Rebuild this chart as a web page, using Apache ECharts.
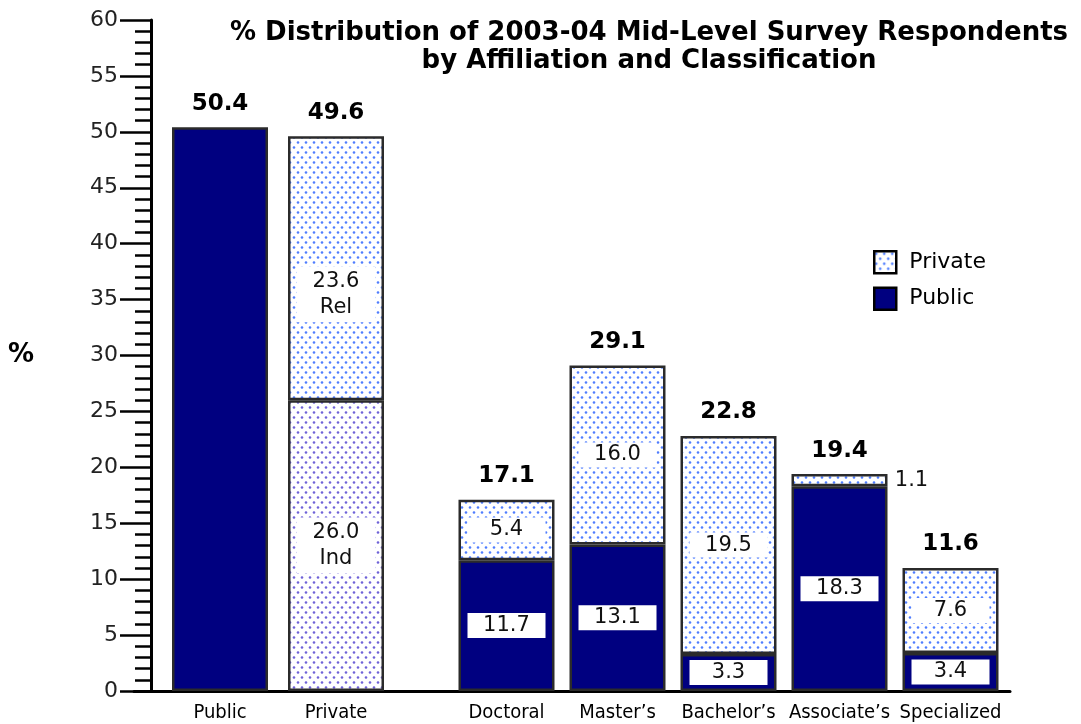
<!DOCTYPE html>
<html>
<head>
<meta charset="utf-8">
<script src="https://cdn.jsdelivr.net/npm/echarts@6/dist/echarts.min.js"></script>
<style>
  html, body { margin: 0; padding: 0; background: #fff; }
  #chart { width: 1081px; height: 724px; }
</style>
</head>
<body>
<div id="chart"></div>
<script>
// datos
const affiliationCats = ['Public', 'Private'];
const affPublic = [50.4, '-'];
const affIndependent = ['-', 26.0];
const affReligious = ['-', 23.6];
const affTotals = ['50.4', '49.6'];

const classCats = ['Doctoral', "Master\u2019s", "Bachelor\u2019s", "Associate\u2019s", 'Specialized'];
const classPublic = [11.7, 13.1, 3.3, 18.3, 3.4];
const classPrivate = [5.4, 16.0, 19.5, 1.1, 7.6];
const classTotals = ['17.1', '29.1', '22.8', '19.4', '11.6'];

const yTicks = { min: 0, max: 60, interval: 5 };

// patron de puntos
function dots(color) {
    const c = document.createElement('canvas');
    c.width = 8; c.height = 10;
    const ctx = c.getContext('2d');
    ctx.fillStyle = '#fff';
    ctx.fillRect(0, 0, 8, 10);
    ctx.fillStyle = color;
    [[2, 2.5], [6, 7.5]].forEach(p => {
        ctx.beginPath(); ctx.arc(p[0], p[1], 1.3, 0, Math.PI * 2); ctx.fill();
    });
    return { image: c, repeat: 'repeat' };
}

const NAVY = '#000080';
const EDGE = '#2b2b2b';
const FONT = 'DejaVu Sans';
const CATFONT = '"DejaVu Sans Condensed", "Liberation Sans Narrow", "DejaVu Sans", sans-serif';
const blueDots = dots('#4f7dff');
const purpleDots = dots('#6f62d8');

const boxLabel = {
    show: true, position: 'inside', color: '#111', fontFamily: FONT, fontSize: 21,
    backgroundColor: '#fff', width: 54, align: 'center', padding: [2, 12]
};
const barStyle = (color) => ({ color: color, borderColor: EDGE, borderWidth: 2.5 });
const totalSeries = (xi, yi, totals) => ({
    type: 'bar', name: 'total', stack: 's' + xi, xAxisIndex: xi, yAxisIndex: yi, barWidth: 96,
    data: totals.map(() => 0), itemStyle: { color: 'transparent', borderWidth: 0 },
    label: {
        show: true, position: 'top', distance: 12, color: '#000', fontFamily: FONT,
        fontWeight: 'bold', fontSize: 23, formatter: p => totals[p.dataIndex]
    },
    silent: true
});

const chart = echarts.init(document.getElementById('chart'));
chart.setOption({
    animation: false,
    title: {
        text: '% Distribution of 2003-04 Mid-Level Survey Respondents\nby Affiliation and Classification',
        left: 644, top: 14, textAlign: 'center',
        textStyle: { fontFamily: FONT, fontWeight: 'bold', fontSize: 26, lineHeight: 28, color: '#000' }
    },
    legend: {
        data: ['Private', 'Public'], orient: 'vertical', left: 868, top: 245,
        icon: 'rect', itemWidth: 22, itemHeight: 22, itemGap: 12,
        itemStyle: { borderColor: '#000', borderWidth: 2.5 },
        textStyle: { fontFamily: FONT, fontSize: 22, color: '#000', padding: [0, 0, 0, 8] },
        selectedMode: false
    },
    grid: [
        { left: 134, top: 20, width: 876, height: 671 },
        { left: 162, top: 20, width: 232, height: 671 },
        { left: 451, top: 20, width: 555, height: 671 }
    ],
    xAxis: [
        { gridIndex: 0, type: 'value', min: 0, max: 1, axisLine: { show: true, lineStyle: { color: '#000', width: 3 } },
          axisTick: { show: false }, axisLabel: { show: false }, splitLine: { show: false } },
        { gridIndex: 1, type: 'category', data: affiliationCats, axisLine: { show: false }, axisTick: { show: false },
          axisLabel: { margin: 12, fontFamily: CATFONT, fontSize: 20, color: '#000' } },
        { gridIndex: 2, type: 'category', data: classCats, axisLine: { show: false }, axisTick: { show: false },
          axisLabel: { margin: 12, fontFamily: CATFONT, fontSize: 20, color: '#000', interval: 0 } }
    ],
    yAxis: [
        { gridIndex: 0, type: 'value', min: yTicks.min, max: yTicks.max, show: false },
        { gridIndex: 1, type: 'value', min: yTicks.min, max: yTicks.max, interval: yTicks.interval, offset: 11,
          name: '%', nameLocation: 'middle', nameRotate: 0, nameGap: 117,
          nameTextStyle: { fontFamily: FONT, fontWeight: 'bold', fontSize: 26, color: '#000' },
          axisLine: { show: true, lineStyle: { color: '#000', width: 3 } },
          axisTick: { show: true, length: 31, lineStyle: { color: '#000', width: 2.5 } },
          minorTick: { show: true, splitNumber: 5, length: 16, lineStyle: { color: '#000', width: 2.5 } },
          axisLabel: { margin: 33, fontFamily: FONT, fontSize: 22, color: '#222' },
          splitLine: { show: false }, minorSplitLine: { show: false } },
        { gridIndex: 2, type: 'value', min: yTicks.min, max: yTicks.max, show: false }
    ],
    series: [
        { type: 'bar', name: 'Public', stack: 's1', xAxisIndex: 1, yAxisIndex: 1, barWidth: 96,
          data: affPublic, itemStyle: barStyle(NAVY) },
        { type: 'bar', name: 'Ind', stack: 's1', xAxisIndex: 1, yAxisIndex: 1, barWidth: 96,
          data: affIndependent, itemStyle: barStyle(purpleDots),
          label: Object.assign({}, boxLabel, { lineHeight: 26, formatter: p => p.value.toFixed(1) + '\nInd' }) },
        { type: 'bar', name: 'Rel', stack: 's1', xAxisIndex: 1, yAxisIndex: 1, barWidth: 96,
          data: affReligious, itemStyle: barStyle(blueDots),
          label: Object.assign({}, boxLabel, { lineHeight: 26, offset: [0, 26], formatter: p => p.value.toFixed(1) + '\nRel' }) },
        totalSeries(1, 1, affTotals),
        { type: 'bar', name: 'Public', stack: 's2', xAxisIndex: 2, yAxisIndex: 2, barWidth: 96,
          data: classPublic, itemStyle: barStyle(NAVY),
          label: Object.assign({}, boxLabel, { formatter: p => p.value.toFixed(1) }) },
        { type: 'bar', name: 'Private', stack: 's2', xAxisIndex: 2, yAxisIndex: 2, barWidth: 96,
          data: classPrivate.map(v => v < 2
              ? { value: v, label: { position: 'right', distance: 24, backgroundColor: 'transparent', padding: 0, width: null } }
              : v),
          itemStyle: barStyle(blueDots),
          label: Object.assign({}, boxLabel, { formatter: p => p.value.toFixed(1) }) },
        totalSeries(2, 2, classTotals)
    ]
});
</script>
</body>
</html>
